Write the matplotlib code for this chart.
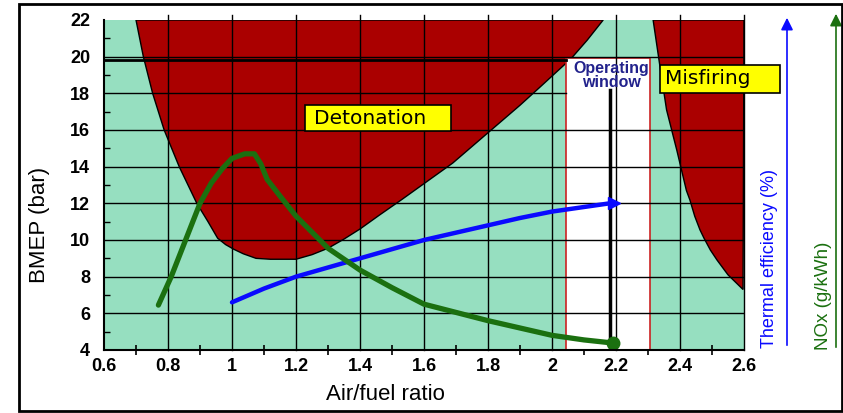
import matplotlib
matplotlib.use("Agg")
import matplotlib.pyplot as plt
from matplotlib.patches import Rectangle

plt.rcParams['font.family'] = ['Liberation Sans', 'DejaVu Sans']

# ---------------- data ----------------
x_ticks = [0.6, 0.8, 1.0, 1.2, 1.4, 1.6, 1.8, 2.0, 2.2, 2.4, 2.6]
x_tick_labels = ["0.6", "0.8", "1", "1.2", "1.4", "1.6", "1.8", "2", "2.2", "2.4", "2.6"]
x_minor = [0.7, 0.9, 1.1, 1.3, 1.5, 1.7, 1.9, 2.1, 2.3, 2.5]
y_ticks = [4, 6, 8, 10, 12, 14, 16, 18, 20, 22]
y_tick_labels = ["4", "6", "8", "10", "12", "14", "16", "18", "20", "22"]
y_minor = [5, 7, 9, 11, 13, 15, 17, 19, 21]

# detonation region boundary (closed along the top edge)
det_x = [0.700, 0.723, 0.752, 0.788, 0.835, 0.890, 0.925, 0.955, 0.980, 1.005, 1.035,
         1.075, 1.120, 1.200, 1.250, 1.300, 1.350, 1.400, 1.460, 1.530, 1.610,
         1.690, 1.760, 1.830, 1.900, 1.960, 2.010, 2.060, 2.110, 2.160]
det_y = [22.0, 20.0, 18.0, 16.0, 14.0, 12.0, 11.0, 10.1, 9.75, 9.5, 9.25,
         9.0, 8.95, 8.95, 9.2, 9.55, 10.05, 10.6, 11.35, 12.2, 13.2,
         14.2, 15.25, 16.3, 17.35, 18.3, 19.1, 19.9, 20.9, 22.0]

# misfiring region boundary
mis_x = [2.316, 2.3375, 2.358, 2.390, 2.420, 2.431, 2.446, 2.4625, 2.475, 2.495,
         2.516, 2.550, 2.597, 2.600]
mis_y = [22.0, 19.45, 17.1, 14.9, 12.7, 12.18, 11.3, 10.55, 10.1, 9.45,
         8.9, 8.1, 7.3, 22.0]

# thermal efficiency curve
eff_x = [1.0, 1.1, 1.2, 1.3, 1.4, 1.5, 1.6, 1.7, 1.8, 1.9, 2.0, 2.1, 2.18]
eff_y = [6.6, 7.35, 8.0, 8.5, 9.0, 9.5, 10.0, 10.4, 10.8, 11.2, 11.55, 11.8, 12.0]

# NOx curve
nox_x = [0.77, 0.81, 0.855, 0.90, 0.935, 0.97, 1.0, 1.04, 1.07, 1.09, 1.11, 1.15,
         1.2, 1.3, 1.4, 1.5, 1.6, 1.8, 2.0, 2.1, 2.18]
nox_y = [6.45, 8.0, 10.0, 12.0, 13.1, 13.9, 14.45, 14.7, 14.7, 14.15, 13.3, 12.4,
         11.3, 9.55, 8.36, 7.4, 6.5, 5.6, 4.8, 4.55, 4.4]

window_x = [2.045, 2.305]
window_top = 19.95
operating_x = 2.18
operating_top = 18.2

# ---------------- figure ----------------
W, H = 843, 413
fig = plt.figure(figsize=(W / 100, H / 100), dpi=100)
ax = fig.add_axes([104 / W, 63 / H, 640 / W, 330 / H])

mint = '#96DFC0'
dred = '#AA0000'
ax.set_facecolor(mint)
ax.set_xlim(0.6, 2.6)
ax.set_ylim(4, 22)

ax.fill(det_x, det_y, facecolor=dred, edgecolor='black', lw=1.0, zorder=1)
ax.fill(mis_x, mis_y, facecolor=dred, edgecolor='black', lw=1.0, zorder=1)

ax.add_patch(Rectangle((window_x[0], 4), window_x[1] - window_x[0], window_top - 4,
                       facecolor='white', edgecolor='#cc2222', lw=1.2, zorder=2))

# grid lines
for xv in x_ticks[1:]:
    ax.plot([xv, xv], [4, 22.25], color='black', lw=1.0, zorder=3, clip_on=False)
for yv in y_ticks[1:-1]:
    xe = window_x[0] if yv == 18 else 2.6
    ax.plot([0.6, xe], [yv, yv], color='black', lw=1.0, zorder=3)
ax.plot([0.6, window_x[0]], [19.8, 19.8], color='black', lw=2.0, zorder=3)

# operating line
ax.plot([operating_x, operating_x], [4, operating_top], color='black', lw=2.5, zorder=4)

# curves
ax.plot(eff_x, eff_y, color='#0A0AFF', lw=3.2, zorder=5, solid_capstyle='round')
ax.plot([eff_x[-1] + 0.015], [eff_y[-1]], marker='>', color='#0A0AFF', ms=9, zorder=5)
ax.plot(nox_x, nox_y, color='#1B7010', lw=3.8, zorder=5, solid_capstyle='round')
ax.plot([nox_x[-1] + 0.01], [nox_y[-1]], marker='o', color='#1B7010', ms=9, zorder=5)

# axes styling
for s in ['top', 'right']:
    ax.spines[s].set_visible(False)
for s in ['left', 'bottom']:
    ax.spines[s].set_linewidth(1.5)
    ax.spines[s].set_zorder(6)

ax.set_xticks(x_ticks)
ax.set_xticklabels(x_tick_labels, fontsize=13, fontweight='bold')
ax.set_xticks(x_minor, minor=True)
ax.set_yticks(y_ticks)
ax.set_yticklabels(y_tick_labels, fontsize=13, fontweight='bold')
ax.set_yticks(y_minor, minor=True)
ax.tick_params(axis='x', which='major', length=0, pad=6)
ax.tick_params(axis='x', which='minor', length=7, direction='inout', width=1.2)
ax.tick_params(axis='y', which='major', length=0, pad=10)
ax.tick_params(axis='y', which='minor', length=4, direction='in', width=1.0)

fig.text(40 / W, 1 - 225 / H, 'BMEP (bar)', rotation=90, fontsize=16,
         ha='center', va='center')
fig.text(385 / W, 1 - 395 / H, 'Air/fuel ratio', fontsize=16, ha='center', va='center')

# labels in plot
fig.patches.append(Rectangle((305 / W, 1 - 131 / H), 146 / W, 26 / H,
                             transform=fig.transFigure, facecolor='#FFFF00',
                             edgecolor='black', lw=1.2, zorder=7))
fig.text(370 / W, 1 - 118 / H, 'Detonation', fontsize=14.5, family='DejaVu Sans',
         ha='center', va='center', zorder=8)
fig.patches.append(Rectangle((660 / W, 1 - 92.7 / H), 120 / W, 27.7 / H,
                             transform=fig.transFigure, facecolor='#FFFF00',
                             edgecolor='black', lw=1.2, zorder=7))
fig.text(665 / W, 1 - 79 / H, 'Misfiring', fontsize=14.5, family='DejaVu Sans',
         ha='left', va='center', zorder=8)
fig.text(611 / W, 1 - 75.5 / H, 'Operating\nwindow', fontsize=11.5, fontweight='bold',
         color='#22228C', ha='center', va='center', linespacing=0.95, zorder=8)

# right side axes arrows
ax.annotate('', xy=(787 / W, 1 - 15 / H), xytext=(787 / W, 1 - 348 / H),
            xycoords='figure fraction', textcoords='figure fraction',
            arrowprops=dict(arrowstyle='-|>', color='#0A0AFF', lw=1.2, mutation_scale=18))
ax.annotate('', xy=(836 / W, 1 - 11 / H), xytext=(836 / W, 1 - 350 / H),
            xycoords='figure fraction', textcoords='figure fraction',
            arrowprops=dict(arrowstyle='-|>', color='#1B7010', lw=1.2, mutation_scale=18))
fig.text(770 / W, 1 - 348 / H, 'Thermal efficiency (%)', rotation=90, fontsize=13,
         color='#0A0AFF', ha='center', va='bottom')
fig.text(823 / W, 1 - 350 / H, 'NOx (g/kWh)', rotation=90, fontsize=13.5,
         color='#1B7010', ha='center', va='bottom')

# outer frame
fig.patches.append(Rectangle((19 / W, 2 / H), (842 - 19) / W, (409 - 2) / H,
                             transform=fig.transFigure, fill=False,
                             edgecolor='black', lw=2.0))

fig.savefig('out.png', dpi=100)
